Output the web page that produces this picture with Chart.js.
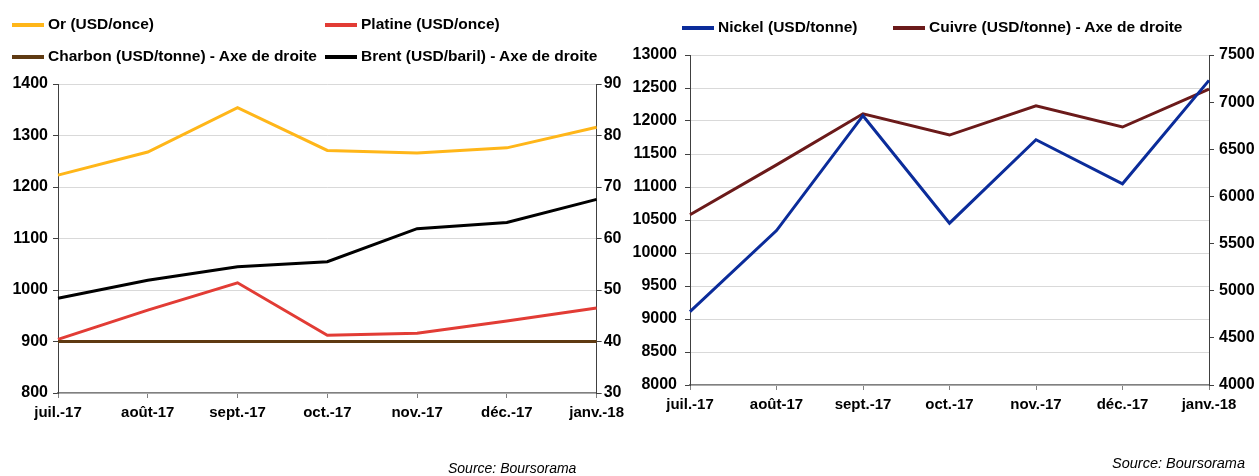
<!DOCTYPE html>
<html lang="fr">
<head>
    <meta charset="UTF-8">
    <title>Matières premières</title>
    <script src="https://cdn.jsdelivr.net/npm/chart.js"></script>
    <style>
        body { margin: 0; background: #fff; font-family: "Liberation Sans", Arial, sans-serif; }
        .wrap { position: absolute; top: 0; height: 476px; }
        .legend { position: absolute; font-weight: bold; font-size: 15.5px; color: #000; white-space: nowrap; line-height: 18px; }
        .legend span.sw { display: inline-block; width: 32px; height: 4px; vertical-align: middle; margin-right: 4px; }
        .source { position: absolute; font-style: italic; font-size: 14px; color: #000; }
    </style>
</head>
<body>
    <div class="wrap" style="left:0;width:630px"><canvas id="metaux"></canvas></div>
    <div class="wrap" style="left:630px;width:629px"><canvas id="base"></canvas></div>
    <div id="legendes"></div>
    <div class="source" style="left:448px;top:460px">Source: Boursorama</div>
    <div class="source" style="left:1112px;top:455px;font-size:14.5px">Source: Boursorama</div>

    <script>
        // Données
        const mois = ['juil.-17', 'août-17', 'sept.-17', 'oct.-17', 'nov.-17', 'déc.-17', 'janv.-18'];
        const or = [1223, 1268, 1354, 1271, 1266, 1276, 1316];
        const platine = [904, 961, 1014, 912, 916, 940, 965];
        const charbon = [40, 40, 40, 40, 40, 40, 40];
        const brent = [48.4, 51.9, 54.5, 55.5, 61.9, 63.1, 67.6];
        const nickel = [9112, 10340, 12080, 10452, 11716, 11048, 12615];
        const cuivre = [5805, 6335, 6877, 6651, 6962, 6736, 7139];

        const police = { family: '"Liberation Sans", Arial, sans-serif', weight: 'bold', size: 16 };
        const policeX = { family: '"Liberation Sans", Arial, sans-serif', weight: 'bold', size: 15 };

        function serie(label, data, couleur, axe, ordre) {
            return { label, data, borderColor: couleur, backgroundColor: couleur, yAxisID: axe,
                     borderWidth: 3, pointRadius: 0, tension: 0, order: ordre };
        }

        function axeX(hauteur) {
            return {
                offset: false,
                grid: { drawOnChartArea: false, tickLength: 5, tickColor: '#808080' },
                border: { color: '#808080', width: 1.5 },
                ticks: { font: policeX, color: '#000', padding: 6, maxRotation: 0, autoSkip: false },
                afterFit: s => { s.height = hauteur; }
            };
        }

        function axeY(pos, min, max, pas, largeur, grille, pad) {
            return {
                position: pos, min, max,
                ticks: { stepSize: pas, font: police, color: '#000', padding: pad, callback: v => v },
                grid: { drawOnChartArea: grille, color: '#d9d9d9', tickLength: 5, tickColor: '#404040' },
                border: { color: '#404040', width: 1 },
                afterFit: s => { s.width = largeur; }
            };
        }

        const commun = {
            responsive: true,
            maintainAspectRatio: false,
            animation: false,
            plugins: { legend: { display: false }, tooltip: { enabled: false } }
        };

        // Graphique de gauche : or, platine, charbon, brent
        const gauche = new Chart(document.getElementById('metaux'), {
            type: 'line',
            data: {
                labels: mois,
                datasets: [
                    serie('Or (USD/once)', or, '#FFB619', 'y', 1),
                    serie('Platine (USD/once)', platine, '#E23C35', 'y', 2),
                    serie('Charbon (USD/tonne) - Axe de droite', charbon, '#5F3A12', 'y1', 0),
                    serie('Brent (USD/baril) - Axe de droite', brent, '#000000', 'y1', 1)
                ]
            },
            options: {
                ...commun,
                layout: { padding: { top: 84, bottom: 50, left: 0, right: 0 } },
                scales: {
                    x: axeX(33),
                    y: axeY('left', 800, 1400, 100, 58, true, 5),
                    y1: axeY('right', 30, 90, 10, 33, false, 2)
                }
            }
        });

        // Graphique de droite : nickel, cuivre
        const droite = new Chart(document.getElementById('base'), {
            type: 'line',
            data: {
                labels: mois,
                datasets: [
                    serie('Nickel (USD/tonne)', nickel, '#0B2C9A', 'y', 0),
                    serie('Cuivre (USD/tonne) - Axe de droite', cuivre, '#6B1A1A', 'y1', 1)
                ]
            },
            options: {
                ...commun,
                layout: { padding: { top: 55, bottom: 61, left: 0, right: 0 } },
                scales: {
                    x: axeX(30),
                    y: axeY('left', 8000, 13000, 500, 60, true, 8),
                    y1: axeY('right', 4000, 7500, 500, 50, false, 5)
                }
            }
        });

        // Légendes construites à partir des séries
        const places = [
            [gauche, 0, 12, 24], [gauche, 1, 325, 24], [gauche, 2, 12, 56], [gauche, 3, 325, 56],
            [droite, 0, 682, 27], [droite, 1, 893, 27]
        ];
        const conteneur = document.getElementById('legendes');
        places.forEach(([graph, i, x, y]) => {
            const ds = graph.data.datasets[i];
            const el = document.createElement('div');
            el.className = 'legend';
            el.style.left = x + 'px';
            el.style.top = (y - 9) + 'px';
            el.innerHTML = '<span class="sw" style="background:' + ds.borderColor + '"></span>' + ds.label;
            conteneur.appendChild(el);
        });
    </script>
</body>
</html>
